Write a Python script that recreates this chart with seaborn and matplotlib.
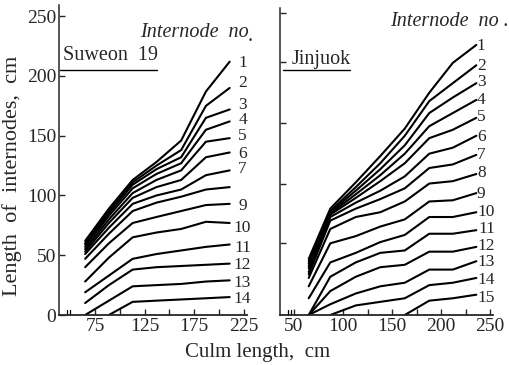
import numpy as np
import pandas as pd
import matplotlib
matplotlib.use("Agg")
import matplotlib.pyplot as plt
import seaborn as sns

# ---------------- data ----------------
# Suweon 19 (left panel): culm-length groups and cumulative internode lengths
suweon_x = [65, 89, 113, 137, 162, 187, 211]
suweon_lines = {
    1:  [62, 89, 113, 128, 146, 187, 212],
    2:  [60, 87, 111, 125, 138, 175, 190],
    3:  [59, 85, 109, 122, 132, 165, 172],
    4:  [57, 83, 106, 118, 127, 155, 162],
    5:  [55, 80, 102, 113, 121, 145, 148],
    6:  [53, 77, 98, 107, 113, 132, 136],
    7:  [51, 73, 93, 100, 105, 117, 121],
    8:  [47, 68, 87, 94, 99, 105, 107],
    9:  [40, 60, 77, 82, 87, 92, 93],
    10: [28, 48, 65, 69, 72, 78, 77],
    11: [19, 33, 47, 51, 54, 57, 59],
    12: [10, 25, 38, 40, 41, 42, 43],
    13: [0, 12, 24, 25, 26, 28, 29],
    14: [np.nan, 0, 11, 12, 13, 14, 15],
}
suweon_labels = ["1", "2", "3", "4", "5", "6", "7", "9", "10", "11", "12", "13", "14"]

# Jinjuok (right panel)
jinjuok_x = [65, 87, 113, 138, 163, 188, 212, 236]
jinjuok_lines = {
    1:  [47, 89, 111, 133, 156, 186, 211, 226],
    2:  [45, 87, 107, 127, 150, 179, 194, 209],
    3:  [43, 86, 104, 122, 142, 169, 182, 194],
    4:  [41, 85, 101, 117, 135, 158, 169, 180],
    5:  [39, 84, 98, 112, 127, 148, 155, 165],
    6:  [36, 82, 94, 104, 116, 135, 140, 150],
    7:  [34, 79, 89, 97, 106, 123, 126, 134],
    8:  [31, 72, 82, 86, 95, 110, 112, 118],
    9:  [24, 60, 66, 74, 80, 95, 96, 102],
    10: [14, 44, 52, 61, 67, 82, 82, 86],
    11: [0, 32, 44, 52, 54, 68, 68, 71],
    12: [0, 20, 32, 40, 42, 53, 53, 57],
    13: [0, 9, 18, 24, 27, 38, 38, 45],
    14: [np.nan, 0, 8, 11, 14, 25, 27, 31],
    15: [np.nan, np.nan, np.nan, np.nan, 0, 12, 14, 17],
}
jinjuok_labels = [str(i) for i in range(1, 16)]

left_xticks = [75, 125, 175, 225]
left_xminor = [100, 150, 200]
right_xticks = [50, 100, 150, 200, 250]
right_xminor = [125, 175, 225]
yticks = [0, 50, 100, 150, 200, 250]
right_yticks = [60, 110, 161, 212, 253]

# label layout (data units)
suweon_label_y = [211, 194, 176, 163, 150, 135, 122, 91, 73, 56, 42, 27, 13]
jinjuok_label_y = [225, 208, 195, 180, 166, 149, 134, 119, 101, 86, 72, 58, 44, 29, 14]


def to_long(xs, lines):
    rows = []
    for k, vals in lines.items():
        for x, v in zip(xs, vals):
            if not np.isnan(v):
                rows.append({"culm": x, "length": v, "internode": k})
    return pd.DataFrame(rows)


sns.set_style("ticks")
plt.rcParams["font.family"] = ["Liberation Serif", "DejaVu Serif"]

fig = plt.figure(figsize=(5.1, 3.65), dpi=100)
axL = fig.add_axes([59 / 510, 50 / 365, 188 / 510, 310 / 365])
axR = fig.add_axes([280 / 510, 50 / 365, 213 / 510, 307 / 365])

dfL = to_long(suweon_x, suweon_lines)
dfR = to_long(jinjuok_x, jinjuok_lines)

sns.lineplot(data=dfL, x="culm", y="length", hue="internode",
             palette=["black"] * len(suweon_lines), legend=False,
             estimator=None, sort=False, lw=1.5, ax=axL)
sns.lineplot(data=dfR, x="culm", y="length", hue="internode",
             palette=["black"] * len(jinjuok_lines), legend=False,
             estimator=None, sort=False, lw=1.5, ax=axR)

axL.set_xlim(38.6, 228.5)
axL.set_ylim(0, 259.4)
axR.set_xlim(35.7, 253)
axR.set_ylim(0, 256.9)

for ax in (axL, axR):
    sns.despine(ax=ax)
    ax.spines["left"].set_linewidth(1.1)
    ax.spines["bottom"].set_linewidth(1.3)
    ax.set_xlabel("")
    ax.set_ylabel("")
    ax.tick_params(direction="in", length=4, width=1, labelsize=14, pad=2)
    ax.tick_params(which="minor", direction="in", length=4, width=1)

axL.set_xticks(left_xticks)
axL.set_xticks(left_xminor, minor=True)
axL.set_yticks(yticks)
axR.set_xticks(right_xticks)
axR.set_xticks(right_xminor, minor=True)
axR.set_yticks(right_yticks)
axR.set_yticklabels([])

# axis-break marks
for ax, bx in ((axL, [47.0, 50.0]), (axR, [44.0, 47.0])):
    for b in bx:
        ax.plot([b, b], [0, 4], color="black", lw=0.9, clip_on=False)

# line labels
for lab, yv in zip(suweon_labels, suweon_label_y):
    axL.text(224, yv, lab, ha="center", va="center", fontsize=12.5)
for lab, yv in zip(jinjuok_labels, jinjuok_label_y):
    xx = 241 if len(lab) == 1 else 246.5
    axR.text(xx, yv, lab, ha="center", va="center", fontsize=12.5, clip_on=False)

axL.text(121, 236, "Internode  no", ha="left", va="center", fontsize=14.5,
         style="italic")
axL.text(229.5, 233, ".", ha="left", va="center", fontsize=14.5, clip_on=False)
axR.text(148, 246, "Internode  no .", ha="left", va="center", fontsize=14.5,
         style="italic", clip_on=False)

axL.text(42.5, 217, "Suweon  19", ha="left", va="center", fontsize=14.5)
axL.plot([39.6, 137.6], [205, 205], color="black", lw=1.0)
axR.text(48, 214, "Jinjuok", ha="left", va="center", fontsize=14.5)
axR.plot([38.8, 107], [205, 205], color="black", lw=1.0)

fig.text(12 / 510, 1 - 176 / 365, "Length  of  internodes,  cm", rotation=90,
         ha="center", va="center", fontsize=16)
fig.text(258 / 510, 1 - 352 / 365, "Culm length,  cm", ha="center",
         va="center", fontsize=15)

fig.savefig("out.png", dpi=100)
